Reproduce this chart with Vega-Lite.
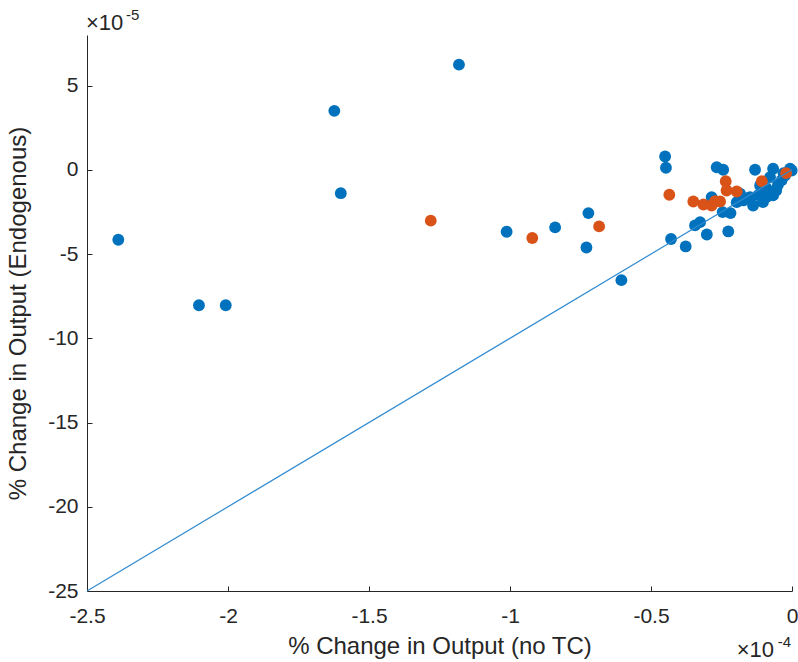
{
  "$schema": "https://vega.github.io/schema/vega-lite/v6.json",
  "width": 705,
  "height": 556,
  "autosize": "none",
  "padding": {"left": 87, "top": 35, "right": 6, "bottom": 71},
  "background": "white",
  "config": {
    "view": {"stroke": null},
    "font": "Liberation Sans",
    "axis": {
      "grid": false,
      "domainColor": "#262626",
      "domainWidth": 1,
      "tickColor": "#262626",
      "tickSize": -5,
      "tickWidth": 1,
      "labelColor": "#262626",
      "labelFont": "Liberation Sans",
      "labelFontSize": 21,
      "labelFlush": false,
      "labelOverlap": false,
      "titleColor": "#262626",
      "titleFont": "Liberation Sans",
      "titleFontSize": 24,
      "titleFontWeight": "normal",
      "labelExpr": "'' + datum.value"
    }
  },
  "datasets": {
    "pts": [
      {"x": -2.389, "y": -4.15, "g": "A"},
      {"x": -2.103, "y": -8.04, "g": "A"},
      {"x": -2.008, "y": -8.04, "g": "A"},
      {"x": -1.623, "y": 3.5, "g": "A"},
      {"x": -1.6, "y": -1.39, "g": "A"},
      {"x": -1.181, "y": 6.24, "g": "A"},
      {"x": -1.012, "y": -3.68, "g": "A"},
      {"x": -0.84, "y": -3.42, "g": "A"},
      {"x": -0.722, "y": -2.57, "g": "A"},
      {"x": -0.729, "y": -4.61, "g": "A"},
      {"x": -0.605, "y": -6.55, "g": "A"},
      {"x": -0.45, "y": 0.79, "g": "A"},
      {"x": -0.447, "y": 0.12, "g": "A"},
      {"x": -0.429, "y": -4.11, "g": "A"},
      {"x": -0.377, "y": -4.55, "g": "A"},
      {"x": -0.344, "y": -3.3, "g": "A"},
      {"x": -0.326, "y": -3.11, "g": "A"},
      {"x": -0.302, "y": -3.84, "g": "A"},
      {"x": -0.226, "y": -3.66, "g": "A"},
      {"x": -0.246, "y": -2.51, "g": "A"},
      {"x": -0.218, "y": -2.57, "g": "A"},
      {"x": -0.285, "y": -1.62, "g": "A"},
      {"x": -0.267, "y": 0.15, "g": "A"},
      {"x": -0.244, "y": 0.0, "g": "A"},
      {"x": -0.131, "y": 0.0, "g": "A"},
      {"x": -0.067, "y": 0.06, "g": "A"},
      {"x": -0.007, "y": 0.06, "g": "A"},
      {"x": -0.113, "y": -0.93, "g": "A"},
      {"x": -0.149, "y": -1.62, "g": "A"},
      {"x": -0.173, "y": -1.82, "g": "A"},
      {"x": -0.138, "y": -2.12, "g": "A"},
      {"x": -0.091, "y": -1.62, "g": "A"},
      {"x": -0.056, "y": -1.23, "g": "A"},
      {"x": -0.037, "y": -0.63, "g": "A"},
      {"x": -0.078, "y": -0.44, "g": "A"},
      {"x": -0.196, "y": -1.92, "g": "A"},
      {"x": -0.184, "y": -1.42, "g": "A"},
      {"x": -0.103, "y": -1.92, "g": "A"},
      {"x": -0.067, "y": -1.52, "g": "A"},
      {"x": -0.025, "y": -0.34, "g": "A"},
      {"x": -0.001, "y": -0.04, "g": "A"},
      {"x": -0.12, "y": -1.5, "g": "A"},
      {"x": -0.16, "y": -1.7, "g": "A"},
      {"x": -0.05, "y": -0.9, "g": "A"},
      {"x": -0.09, "y": -1.1, "g": "A"},
      {"x": -0.03, "y": -0.2, "g": "A"},
      {"x": -1.281, "y": -3.02, "g": "B"},
      {"x": -0.921, "y": -4.05, "g": "B"},
      {"x": -0.684, "y": -3.36, "g": "B"},
      {"x": -0.435, "y": -1.48, "g": "B"},
      {"x": -0.35, "y": -1.88, "g": "B"},
      {"x": -0.314, "y": -2.06, "g": "B"},
      {"x": -0.285, "y": -2.12, "g": "B"},
      {"x": -0.273, "y": -1.86, "g": "B"},
      {"x": -0.255, "y": -1.88, "g": "B"},
      {"x": -0.235, "y": -0.68, "g": "B"},
      {"x": -0.232, "y": -1.23, "g": "B"},
      {"x": -0.196, "y": -1.29, "g": "B"},
      {"x": -0.107, "y": -0.68, "g": "B"},
      {"x": -0.021, "y": -0.2, "g": "B"}
    ],
    "line": [
      {"x": -2.5, "y": -25},
      {"x": 0, "y": 0}
    ],
    "expo": [
      {"x": -2.5, "y": 8, "base": "×10", "sup": "-5", "pos": "top"},
      {"x": 0, "y": -25, "base": "×10", "sup": "-4", "pos": "bottom"}
    ]
  },
  "layer": [
    {
      "data": {"name": "pts"},
      "mark": {"type": "circle", "size": 140, "opacity": 1},
      "encoding": {
        "x": {
          "field": "x", "type": "quantitative",
          "scale": {"domain": [-2.5, 0], "nice": false, "zero": false},
          "axis": {"values": [-2.5, -2, -1.5, -1, -0.5, 0], "title": "% Change in Output (no TC)", "labelPadding": 19, "titlePadding": 8}
        },
        "y": {
          "field": "y", "type": "quantitative",
          "scale": {"domain": [-25, 8], "nice": false, "zero": false},
          "axis": {"values": [-25, -20, -15, -10, -5, 0, 5], "title": "% Change in Output (Endogenous)", "labelPadding": 14, "titlePadding": 17}
        },
        "color": {
          "field": "g", "type": "nominal",
          "scale": {"domain": ["A", "B"], "range": ["#0072BD", "#D95319"]},
          "legend": null
        },
        "order": {"field": "g", "type": "nominal"}
      }
    },
    {
      "data": {"name": "line"},
      "mark": {"type": "line", "color": "#2F8AD0", "strokeWidth": 1.2},
      "encoding": {
        "x": {"field": "x", "type": "quantitative"},
        "y": {"field": "y", "type": "quantitative"}
      }
    },
    {
      "data": {"name": "expo"},
      "transform": [{"filter": "datum.pos == 'top'"}],
      "layer": [
        {
          "mark": {"type": "text", "align": "left", "baseline": "alphabetic", "fontSize": 22, "color": "#262626", "dy": -5, "dx": -1},
          "encoding": {
            "x": {"field": "x", "type": "quantitative"},
            "y": {"field": "y", "type": "quantitative"},
            "text": {"field": "base"}
          }
        },
        {
          "mark": {"type": "text", "align": "left", "baseline": "alphabetic", "fontSize": 15, "color": "#262626", "dy": -15, "dx": 39},
          "encoding": {
            "x": {"field": "x", "type": "quantitative"},
            "y": {"field": "y", "type": "quantitative"},
            "text": {"field": "sup"}
          }
        }
      ]
    },
    {
      "data": {"name": "expo"},
      "transform": [{"filter": "datum.pos == 'bottom'"}],
      "layer": [
        {
          "mark": {"type": "text", "align": "right", "baseline": "alphabetic", "fontSize": 22, "color": "#262626", "dy": 66, "dx": -18},
          "encoding": {
            "x": {"field": "x", "type": "quantitative"},
            "y": {"field": "y", "type": "quantitative"},
            "text": {"field": "base"}
          }
        },
        {
          "mark": {"type": "text", "align": "right", "baseline": "alphabetic", "fontSize": 15, "color": "#262626", "dy": 56, "dx": -1},
          "encoding": {
            "x": {"field": "x", "type": "quantitative"},
            "y": {"field": "y", "type": "quantitative"},
            "text": {"field": "sup"}
          }
        }
      ]
    }
  ]
}
